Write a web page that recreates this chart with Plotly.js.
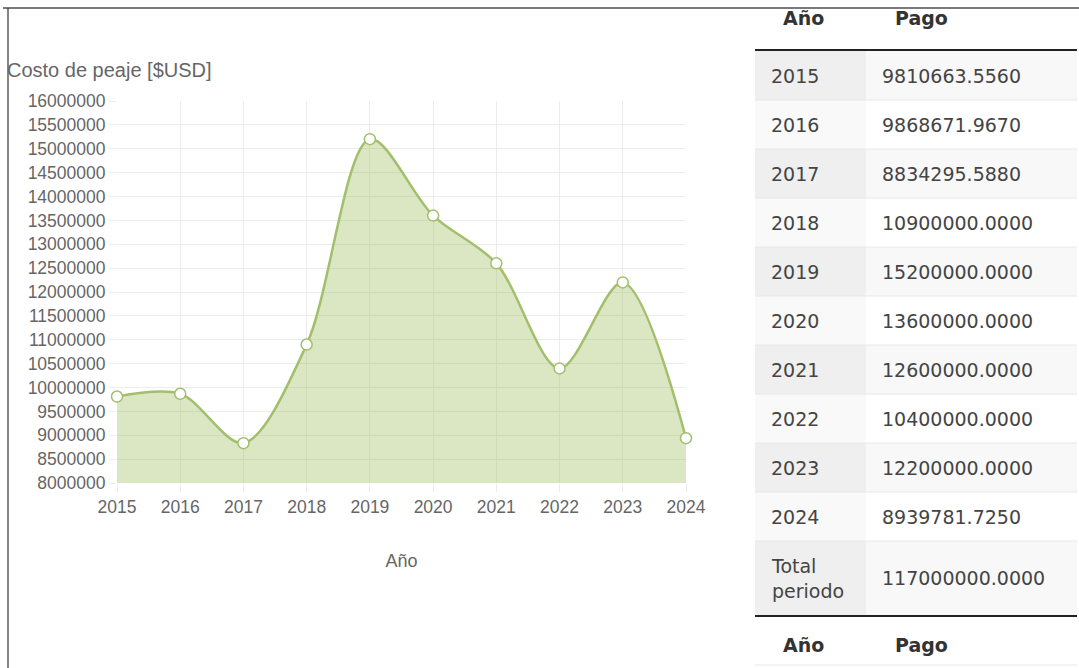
<!DOCTYPE html>
<html>
<head>
<meta charset="utf-8">
<script src="https://cdn.plot.ly/plotly-3.0.1.min.js"></script>
<style>html,body{margin:0;padding:0;background:#fff;}#chart{width:1079px;height:668px;}</style>
</head>
<body>
<div id="chart"></div>
<script>
// ---- data ----
const years = [2015, 2016, 2017, 2018, 2019, 2020, 2021, 2022, 2023, 2024];
const payments = [9810663.556, 9868671.967, 8834295.588, 10900000, 15200000, 13600000, 12600000, 10400000, 12200000, 8939781.725];
const totalLabel = 'Total<br>periodo';
const totalValue = 117000000;
const yTitle = 'Costo de peaje [$USD]';
const xTitle = 'Año';
const headerYear = 'Año';
const headerPay = 'Pago';

// ---- geometry helpers (pixel -> paper) ----
const W = 1079, H = 668;
const L = 117, R = 686, T = 101, B = 483;
const px = x => (x - L) / (R - L);
const py = y => (B - y) / (B - T);

const shapes = [];
const annotations = [];

// page borders
shapes.push({type:'line', xref:'paper', yref:'paper', x0:px(3), x1:px(1079), y0:py(8), y1:py(8), line:{color:'#7a7a7a', width:2}});
shapes.push({type:'line', xref:'paper', yref:'paper', x0:px(8), x1:px(8), y0:py(8), y1:py(668), line:{color:'#333', width:1.2}});

// table
const tL = 755, tM = 866, tR = 1077;
const rowTop0 = 51, rowH = 49;
const cellFont = {family:'DejaVu Sans, Verdana, sans-serif', size:19, color:'#444'};
const headFont = {family:'DejaVu Sans, Verdana, sans-serif', size:19, color:'#333', weight:'bold'};

function headerRow(cy){
  annotations.push({xref:'paper', yref:'paper', x:px(781), y:py(cy), xanchor:'left', yanchor:'middle', text:'<b>'+headerYear+'</b>', showarrow:false, font:headFont});
  annotations.push({xref:'paper', yref:'paper', x:px(893), y:py(cy), xanchor:'left', yanchor:'middle', text:'<b>'+headerPay+'</b>', showarrow:false, font:headFont});
}
headerRow(18);
shapes.push({type:'line', xref:'paper', yref:'paper', x0:px(tL), x1:px(tR), y0:py(50), y1:py(50), line:{color:'#222', width:2}});

const rows = years.map((y, i) => ({a: String(y), b: payments[i].toFixed(4)}));
rows.push({a: totalLabel, b: totalValue.toFixed(4)});
let rowTop = rowTop0;
rows.forEach((r, i) => {
  const h = (i === rows.length - 1) ? 74 : rowH;
  const odd = i % 2 === 0;
  shapes.push({type:'rect', xref:'paper', yref:'paper', x0:px(tL), x1:px(tM), y0:py(rowTop), y1:py(rowTop+h), line:{width:0}, fillcolor: odd ? '#efefef' : '#f9f9f9', layer:'below'});
  shapes.push({type:'rect', xref:'paper', yref:'paper', x0:px(tM), x1:px(tR), y0:py(rowTop), y1:py(rowTop+h), line:{width:0}, fillcolor: odd ? '#f8f8f8' : '#ffffff', layer:'below'});
  if (i > 0) shapes.push({type:'line', xref:'paper', yref:'paper', x0:px(tL), x1:px(tR), y0:py(rowTop), y1:py(rowTop), line:{color:'#e8e8e8', width:1}});
  const cy = rowTop + h/2;
  annotations.push({xref:'paper', yref:'paper', x:px(769), y:py(cy), xanchor:'left', yanchor:'middle', align:'left', text:r.a, showarrow:false, font:cellFont});
  annotations.push({xref:'paper', yref:'paper', x:px(880), y:py(cy), xanchor:'left', yanchor:'middle', text:r.b, showarrow:false, font:cellFont});
  rowTop += h;
});
shapes.push({type:'line', xref:'paper', yref:'paper', x0:px(tL), x1:px(tR), y0:py(616), y1:py(616), line:{color:'#222', width:2}});
headerRow(645);
shapes.push({type:'line', xref:'paper', yref:'paper', x0:px(tL), x1:px(tR), y0:py(665), y1:py(665), line:{color:'#e8e8e8', width:1}});

// y title
annotations.push({xref:'paper', yref:'paper', x:px(5), y:py(70), xanchor:'left', yanchor:'middle', text:yTitle, showarrow:false, font:{family:'Liberation Sans, Arial, sans-serif', size:20, color:'#666'}});

const trace = {
  x: years, y: payments, type:'scatter', mode:'lines+markers',
  line:{shape:'spline', smoothing:0.9, color:'#a2bf6c', width:2.5},
  fill:'tozeroy', fillcolor:'rgba(155,187,89,0.36)',
  marker:{size:11, color:'#ffffff', line:{color:'#a2bf6c', width:1.5}},
  cliponaxis:false, hoverinfo:'x+y'
};

const axisFont = {family:'Liberation Sans, Arial, sans-serif', size:17.5, color:'#666'};
const layout = {
  width:W, height:H,
  margin:{l:L, r:W-R, t:T, b:H-B, pad:0},
  paper_bgcolor:'#fff', plot_bgcolor:'#fff',
  showlegend:false,
  xaxis:{range:[2015, 2024], tickvals:years, ticktext:years.map(String), showgrid:true, gridcolor:'#ececec', gridwidth:1,
         zeroline:false, showline:false, ticks:'outside', ticklen:8, tickcolor:'#ececec', tickfont:axisFont,
         title:{text:xTitle, font:{family:'Liberation Sans, Arial, sans-serif', size:18, color:'#666'}, standoff:38}},
  yaxis:{range:[8000000, 16000000], dtick:500000, tick0:8000000, tickformat:'d', showgrid:true, gridcolor:'#ececec', gridwidth:1,
         zeroline:false, showline:false, ticks:'outside', ticklen:7, tickcolor:'#ececec', tickfont:axisFont},
  shapes: shapes,
  annotations: annotations
};

Plotly.newPlot('chart', [trace], layout, {displayModeBar:false, staticPlot:true});
</script>
</body>
</html>
